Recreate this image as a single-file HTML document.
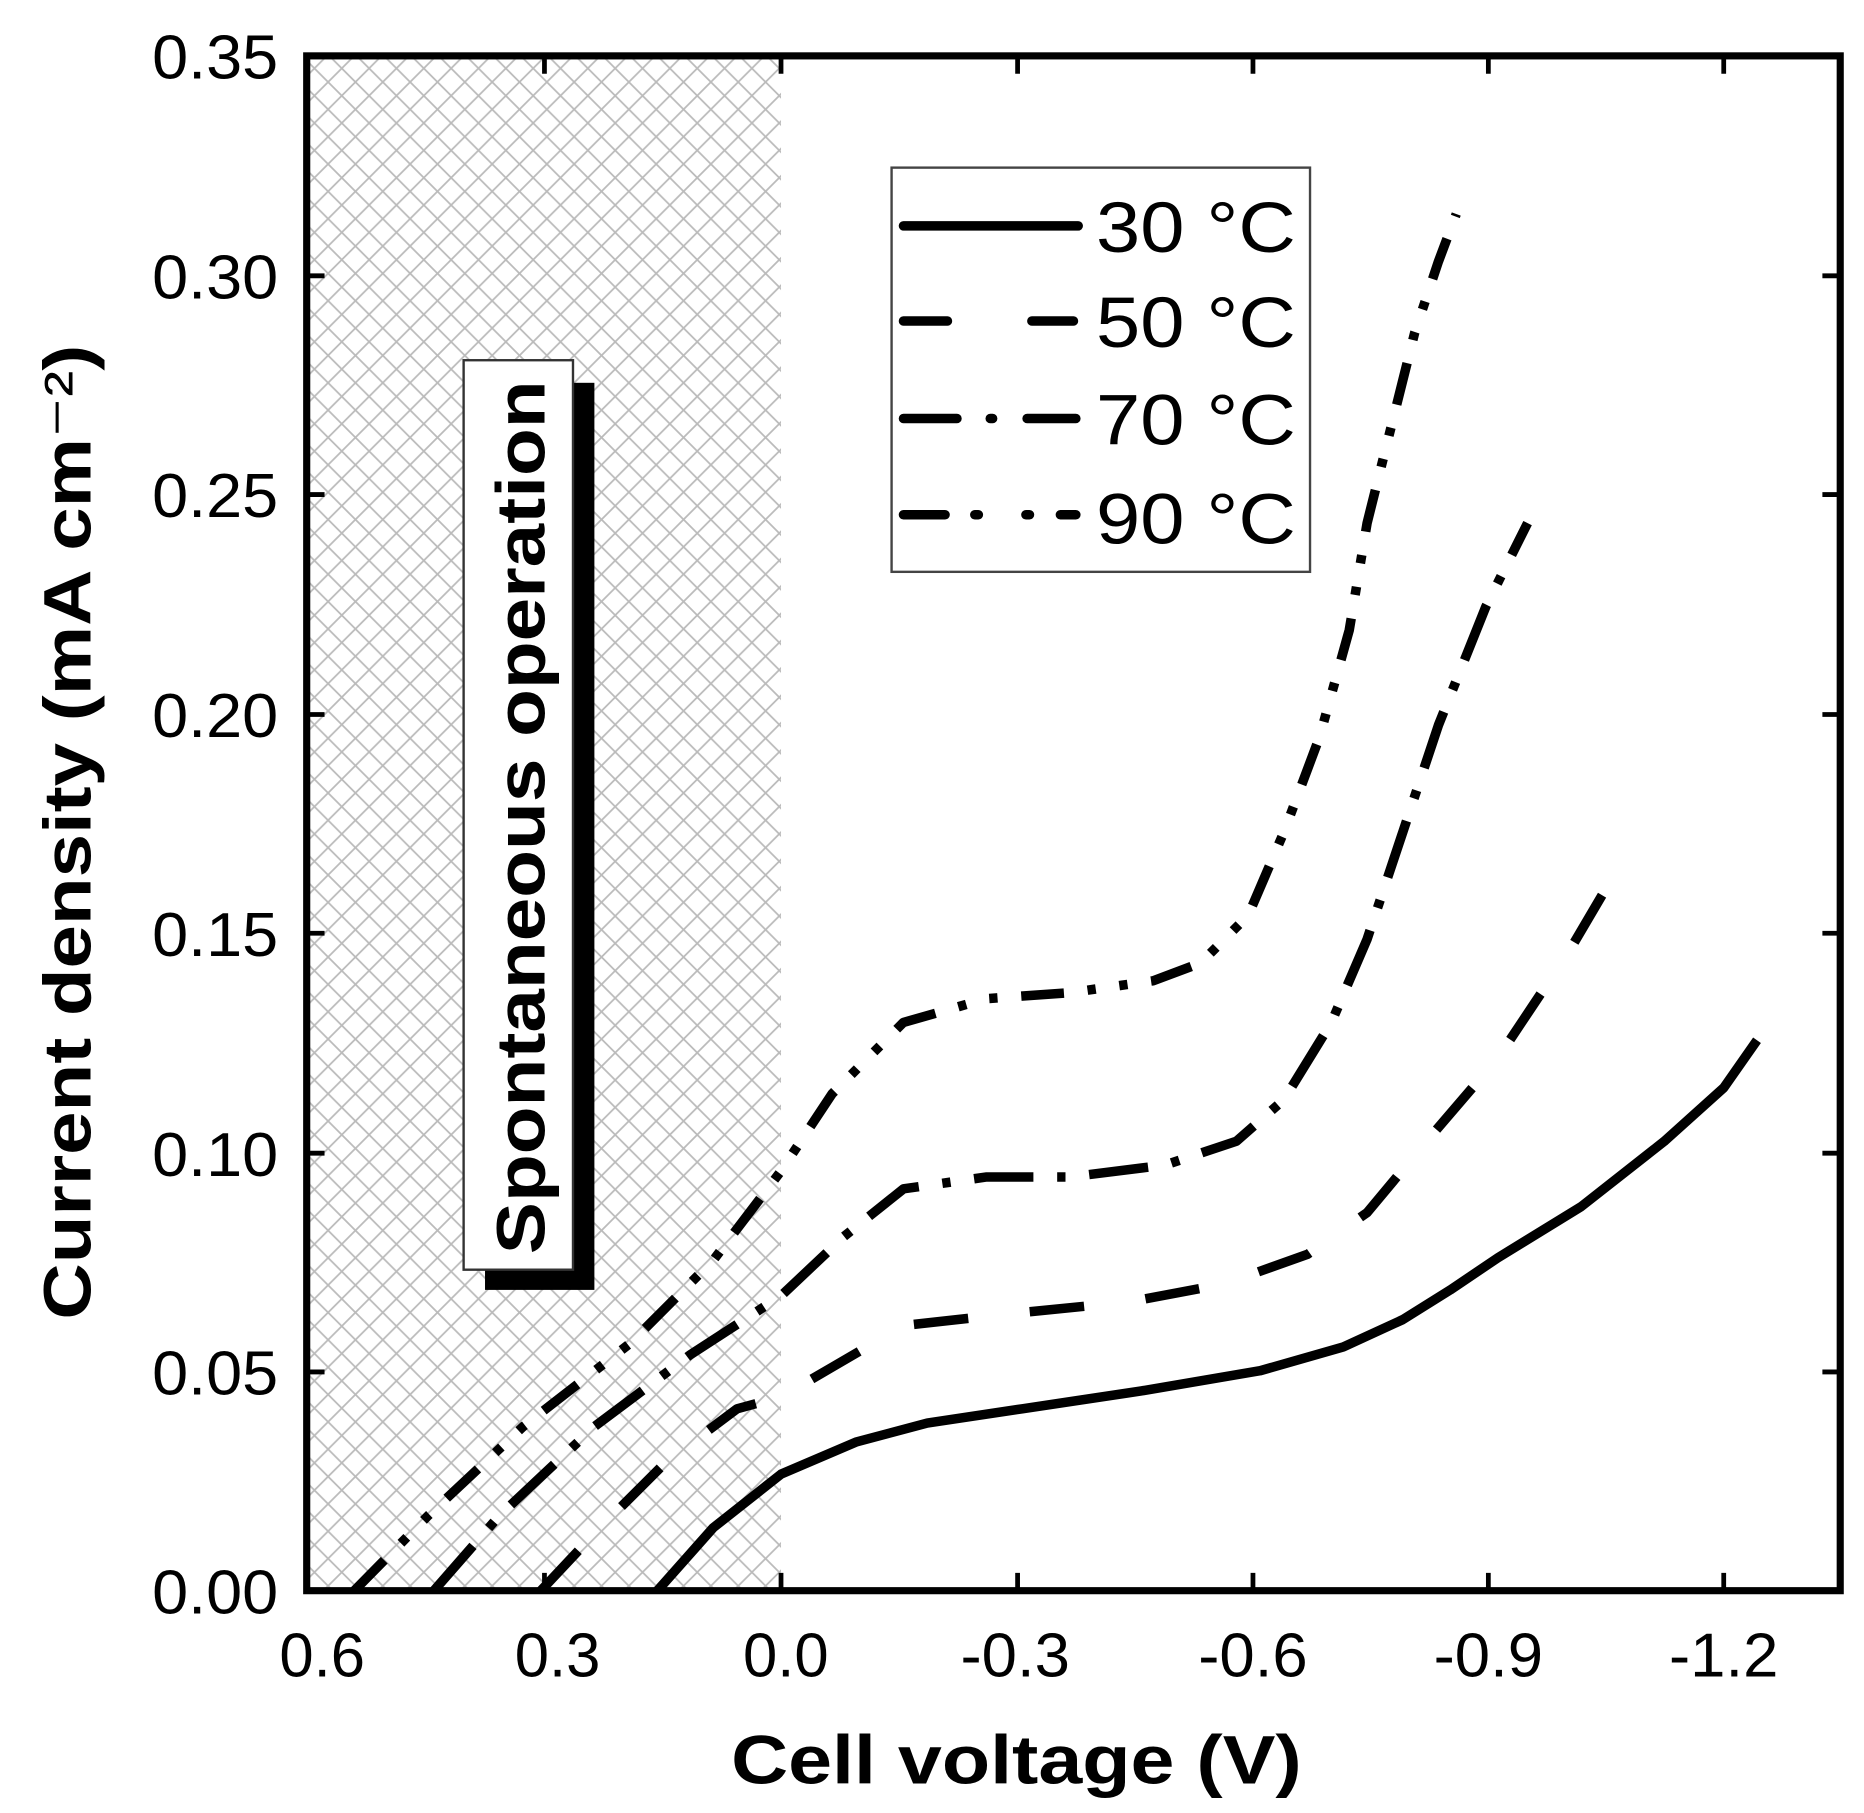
<!DOCTYPE html>
<html><head><meta charset="utf-8"><style>html,body{margin:0;padding:0;background:#fff}svg{display:block}</style></head>
<body>
<svg width="1864" height="1813" viewBox="0 0 1568 1525" preserveAspectRatio="none" xmlns="http://www.w3.org/2000/svg" font-family="Liberation Sans, sans-serif">
<defs>
<pattern id="h" width="23" height="23" patternUnits="userSpaceOnUse">
<path d="M0,0 L23,23 M23,0 L0,23" stroke="#bbb" stroke-width="1.5"/>
</pattern>
</defs>
<rect x="258" y="47" width="399" height="1291" fill="url(#h)"/>
<g fill="none" stroke="#000" stroke-width="8" stroke-linejoin="round">
<polyline points="553,1338 600,1285 657,1240 720,1213 780,1197 860,1185 960,1170 1060,1153 1130,1133 1180,1110 1220,1085 1260,1058 1330,1015 1400,960 1450,915 1478,875"/>
<polyline stroke-dasharray="46 52" points="455,1338 500,1290 560,1230 620,1185 657,1175 700,1150 760,1115 850,1105 950,1095 1030,1080 1100,1055 1150,1020 1200,960 1260,890 1320,800 1370,715"/>
<polyline stroke-dasharray="50 20 7 20" points="365,1338 420,1275 500,1200 580,1140 657,1090 710,1040 760,1000 830,990 900,990 980,980 1040,960 1080,925 1120,860 1150,790 1180,700 1210,610 1250,510 1285,440"/>
<polyline stroke-dasharray="36 20 7 20 7 20" points="298,1338 360,1275 440,1200 530,1130 600,1060 657,985 700,920 760,860 830,840 900,835 970,825 1010,810 1050,770 1080,700 1110,620 1135,530 1150,440 1165,380 1190,280 1210,220 1225,180"/>
</g>
<rect x="258" y="47" width="1290" height="1291" fill="none" stroke="#000" stroke-width="6"/>
<g stroke="#000" stroke-width="4">
<path d="M458,1338v-15M657,1338v-15M856,1338v-15M1054,1338v-15M1252,1338v-15M1450,1338v-15"/>
<path d="M458,47v15M657,47v15M856,47v15M1054,47v15M1252,47v15M1450,47v15"/>
<path d="M258,1154h15M258,970h15M258,785h15M258,601h15M258,416h15M258,232h15"/>
<path d="M1548,1154h-15M1548,970h-15M1548,785h-15M1548,601h-15M1548,416h-15M1548,232h-15"/>
</g>
<g font-size="52" fill="#000" lengthAdjust="spacingAndGlyphs">
<text x="128" y="1357" textLength="106" lengthAdjust="spacingAndGlyphs">0.00</text>
<text x="128" y="1173" textLength="106" lengthAdjust="spacingAndGlyphs">0.05</text>
<text x="128" y="989" textLength="106" lengthAdjust="spacingAndGlyphs">0.10</text>
<text x="128" y="804" textLength="106" lengthAdjust="spacingAndGlyphs">0.15</text>
<text x="128" y="620" textLength="106" lengthAdjust="spacingAndGlyphs">0.20</text>
<text x="128" y="435" textLength="106" lengthAdjust="spacingAndGlyphs">0.25</text>
<text x="128" y="251" textLength="106" lengthAdjust="spacingAndGlyphs">0.30</text>
<text x="128" y="66" textLength="106" lengthAdjust="spacingAndGlyphs">0.35</text>
</g>
<g font-size="52" fill="#000">
<text x="235" y="1410" textLength="72" lengthAdjust="spacingAndGlyphs">0.6</text>
<text x="433" y="1410" textLength="72" lengthAdjust="spacingAndGlyphs">0.3</text>
<text x="625" y="1410" textLength="72" lengthAdjust="spacingAndGlyphs">0.0</text>
<text x="808" y="1410" textLength="92" lengthAdjust="spacingAndGlyphs">-0.3</text>
<text x="1008" y="1410" textLength="92" lengthAdjust="spacingAndGlyphs">-0.6</text>
<text x="1206" y="1410" textLength="92" lengthAdjust="spacingAndGlyphs">-0.9</text>
<text x="1404" y="1410" textLength="92" lengthAdjust="spacingAndGlyphs">-1.2</text>
</g>
<text x="615" y="1500" font-size="58" font-weight="bold" textLength="480" lengthAdjust="spacingAndGlyphs">Cell voltage (V)</text>
<text transform="translate(76,1110) rotate(-90)" font-size="56" font-weight="bold" textLength="820" lengthAdjust="spacingAndGlyphs">Current density (mA cm<tspan font-weight="normal">⁻²</tspan>)</text>
<rect x="408" y="322" width="92" height="763" fill="#000"/>
<rect x="390" y="303" width="92" height="765" fill="#fff" stroke="#333" stroke-width="2"/>
<text transform="translate(458,1055) rotate(-90)" font-size="58" font-weight="bold" textLength="735" lengthAdjust="spacingAndGlyphs">Spontaneous operation</text>
<rect x="750" y="141" width="352" height="340" fill="#fff" stroke="#444" stroke-width="2"/>
<g stroke="#000" stroke-width="8" stroke-linecap="round" fill="none">
<path d="M760,190H907"/>
<path d="M760,270H797M868,270H903"/>
<path d="M760,352H805M833,352H835M864,352H905"/>
<path d="M760,433H795M820,433H823M863,433H866M892,433H905"/>
</g>
<g font-size="60" fill="#000">
<text x="922" y="212" textLength="168" lengthAdjust="spacingAndGlyphs">30 °C</text>
<text x="922" y="292" textLength="168" lengthAdjust="spacingAndGlyphs">50 °C</text>
<text x="922" y="374" textLength="168" lengthAdjust="spacingAndGlyphs">70 °C</text>
<text x="922" y="457" textLength="168" lengthAdjust="spacingAndGlyphs">90 °C</text>
</g>
</svg>
</body></html>
